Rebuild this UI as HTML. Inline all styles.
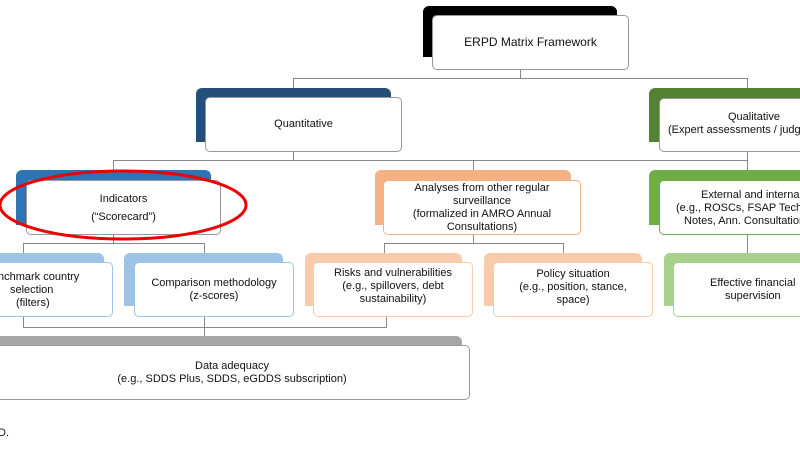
<!DOCTYPE html>
<html><head><meta charset="utf-8"><style>
body{margin:0;width:800px;height:450px;overflow:hidden;background:#fff;position:relative;font-family:"Liberation Sans",Arial,sans-serif;font-size:11px;color:#111}
.b{position:absolute;border-radius:6px 6px 0 0}
.f{position:absolute;background:#fff;border:1px solid #999;border-radius:5px;display:flex;align-items:center;justify-content:center;text-align:center;line-height:13px;box-sizing:border-box;overflow:hidden}
.l{position:absolute;background:#888}
.t{position:absolute;white-space:nowrap;line-height:13px}
</style></head><body>
<!-- connectors -->
<div class="l" style="left:520px;top:70px;width:1px;height:8px"></div>
<div class="l" style="left:293px;top:78px;width:455px;height:1px"></div>
<div class="l" style="left:293px;top:78px;width:1px;height:10px"></div>
<div class="l" style="left:747px;top:78px;width:1px;height:10px"></div>
<div class="l" style="left:293px;top:152px;width:1px;height:8px"></div>
<div class="l" style="left:113px;top:160px;width:635px;height:1px"></div>
<div class="l" style="left:113px;top:160px;width:1px;height:10px"></div>
<div class="l" style="left:473px;top:160px;width:1px;height:10px"></div>
<div class="l" style="left:747px;top:152px;width:1px;height:18px"></div>
<div class="l" style="left:113px;top:235px;width:1px;height:8px"></div>
<div class="l" style="left:23px;top:243px;width:182px;height:1px"></div>
<div class="l" style="left:23px;top:243px;width:1px;height:10px"></div>
<div class="l" style="left:204px;top:243px;width:1px;height:10px"></div>
<div class="l" style="left:473px;top:235px;width:1px;height:8px"></div>
<div class="l" style="left:384px;top:243px;width:180px;height:1px"></div>
<div class="l" style="left:384px;top:243px;width:1px;height:10px"></div>
<div class="l" style="left:563px;top:243px;width:1px;height:10px"></div>
<div class="l" style="left:747px;top:235px;width:1px;height:18px"></div>
<div class="l" style="left:23px;top:317px;width:1px;height:10px"></div>
<div class="l" style="left:386px;top:317px;width:1px;height:10px"></div>
<div class="l" style="left:23px;top:327px;width:364px;height:1px"></div>
<div class="l" style="left:204px;top:317px;width:1px;height:19px"></div>

<!-- top -->
<div class="b" style="left:423px;top:6px;width:194px;height:51px;background:#000"></div>
<div class="f" style="left:432px;top:15px;width:197px;height:55px;font-size:12px">ERPD Matrix Framework</div>

<div class="b" style="left:196px;top:88px;width:195px;height:54px;background:#234F7A"></div>
<div class="f" style="left:205px;top:97px;width:197px;height:55px">Quantitative</div>

<div class="b" style="left:649px;top:88px;width:160px;height:54px;background:#548235"></div>
<div class="f" style="left:659px;top:98px;width:160px;height:54px"></div>
<div class="t" style="left:728px;top:111px">Qualitative</div>
<div class="t" style="left:668px;top:124px">(Expert assessments / judgment)</div>

<div class="b" style="left:16px;top:170px;width:195px;height:55px;background:#2E75B6"></div>
<div class="f" style="left:26px;top:180px;width:195px;height:55px;line-height:18px">Indicators<br>(“Scorecard”)</div>

<div class="b" style="left:375px;top:170px;width:196px;height:55px;background:#F4B183"></div>
<div class="f" style="left:383px;top:180px;width:198px;height:55px;border-color:#F4B183">Analyses from other regular<br>surveillance<br>(formalized in AMRO Annual<br>Consultations)</div>

<div class="b" style="left:649px;top:170px;width:160px;height:55px;background:#70AD47"></div>
<div class="f" style="left:659px;top:180px;width:160px;height:55px;border-color:#70AD47"></div>
<div class="t" style="left:701px;top:189px">External and internal</div>
<div class="t" style="left:676px;top:202px">(e.g., ROSCs, FSAP Technical</div>
<div class="t" style="left:684px;top:215px">Notes, Ann. Consultations)</div>

<!-- row 3 -->
<div class="b" style="left:-10px;top:253px;width:114px;height:53px;background:#9DC3E6"></div>
<div class="f" style="left:-6px;top:262px;width:119px;height:55px;border-color:#9DC3E6"></div>
<div class="t" style="left:-2px;top:271px">nchmark country</div>
<div class="t" style="left:10px;top:284px">selection</div>
<div class="t" style="left:16px;top:297px">(filters)</div>

<div class="b" style="left:124px;top:253px;width:159px;height:53px;background:#9DC3E6"></div>
<div class="f" style="left:134px;top:262px;width:160px;height:55px;border-color:#9DC3E6">Comparison methodology<br>(z-scores)</div>

<div class="b" style="left:305px;top:253px;width:157px;height:53px;background:#F8CBAD"></div>
<div class="f" style="left:313px;top:262px;width:160px;height:55px;border-color:#F8CBAD;padding-bottom:6px">Risks and vulnerabilities<br>(e.g., spillovers, debt<br>sustainability)</div>

<div class="b" style="left:484px;top:253px;width:158px;height:53px;background:#F8CBAD"></div>
<div class="f" style="left:493px;top:262px;width:160px;height:55px;border-color:#F8CBAD;padding-bottom:4px">Policy situation<br>(e.g., position, stance,<br>space)</div>

<div class="b" style="left:664px;top:253px;width:150px;height:53px;background:#A9D18E"></div>
<div class="f" style="left:673px;top:262px;width:150px;height:55px;border-color:#A9D18E"></div>
<div class="t" style="left:710px;top:277px">Effective financial</div>
<div class="t" style="left:725px;top:290px">supervision</div>

<div class="b" style="left:-10px;top:336px;width:472px;height:50px;background:#A6A6A6"></div>
<div class="f" style="left:-6px;top:345px;width:476px;height:55px">Data adequacy<br>(e.g., SDDS Plus, SDDS, eGDDS subscription)</div>

<div style="position:absolute;left:-2px;top:427px;font-size:11px">D.</div>

<svg style="position:absolute;left:0;top:0" width="800" height="450"><ellipse cx="123" cy="205" rx="123" ry="34" fill="none" stroke="#E00" stroke-width="3"/></svg>
</body></html>
